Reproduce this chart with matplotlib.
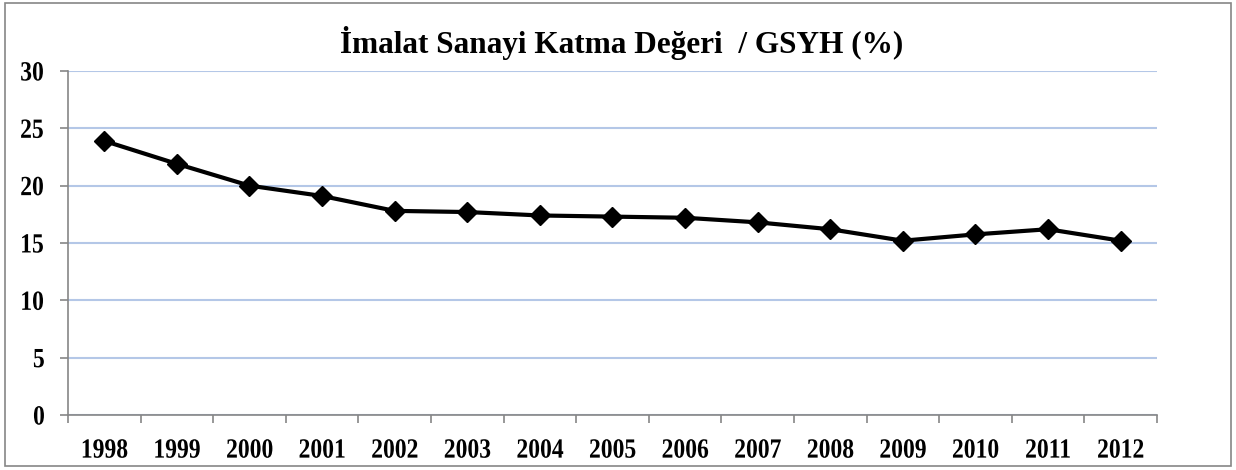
import matplotlib
matplotlib.use("Agg")
import matplotlib.pyplot as plt
from matplotlib.patches import Rectangle
from matplotlib.patheffects import AbstractPathEffect
from matplotlib.transforms import Affine2D
import numpy as np

# veriler
years = ['1998', '1999', '2000', '2001', '2002', '2003', '2004', '2005',
         '2006', '2007', '2008', '2009', '2010', '2011', '2012']
values = [23.9, 21.9, 20.0, 19.1, 17.8, 17.7, 17.4, 17.3,
          17.2, 16.8, 16.2, 15.2, 15.75, 16.2, 15.2]
yticks = [0, 5, 10, 15, 20, 25, 30]
title = 'İmalat Sanayi Katma Değeri  / GSYH (%)'


# eksen yazilari referansta yatayda biraz sikismis, yaziyi ortasindan daralt
class Squeeze(AbstractPathEffect):
    def __init__(self, sx):
        super().__init__()
        self.sx = sx

    def draw_path(self, renderer, gc, tpath, affine, rgbFace=None):
        ext = tpath.get_extents(affine)
        cx = (ext.x0 + ext.x1) / 2
        a = affine + Affine2D().translate(-cx, 0).scale(self.sx, 1).translate(cx, 0)
        renderer.draw_path(gc, tpath, a, rgbFace)


plt.rcParams['font.family'] = ['Liberation Serif', 'DejaVu Serif']
plt.rcParams['font.weight'] = 'bold'

fig = plt.figure(figsize=(12.36, 4.70), dpi=100)
ax = fig.add_axes([0.055, 0.117, 0.881, 0.732])

x = np.arange(len(years))
ax.plot(x, values, color='black', lw=3, marker='D', ms=10.5, zorder=3)

ax.set_xlim(-0.5, len(years) - 0.5)
ax.set_ylim(0, 30)
ax.set_yticks(yticks)
ax.set_yticklabels([str(v) for v in yticks], fontsize=20, fontweight='bold')
ax.set_xticks(x)
ax.set_xticklabels(years, fontsize=20, fontweight='bold')
ax.set_xticks(np.arange(-0.5, len(years), 1), minor=True)
ax.tick_params(axis='x', which='major', length=0, pad=17)
ax.tick_params(axis='x', which='minor', length=6, color='#868686', width=1.2)
ax.tick_params(axis='y', length=6, color='#868686', width=1.2, pad=10)
for lab in ax.get_xticklabels() + ax.get_yticklabels():
    lab.set_path_effects([Squeeze(0.85)])

ax.grid(axis='y', color='#B4C7E7', lw=1.5)
ax.set_axisbelow(True)
for s in ['top', 'right']:
    ax.spines[s].set_visible(False)
for s in ['left', 'bottom']:
    ax.spines[s].set_color('#868686')
    ax.spines[s].set_linewidth(1.2)

fig.text(0.503, 1 - 53 / 470, title, ha='center', va='baseline', fontsize=22.5, fontweight='bold')

# dis cerceve
fig.patches.append(Rectangle((0.004, 0.008), 0.992, 0.985, transform=fig.transFigure,
                             fill=False, edgecolor='#868686', lw=1.2))

fig.savefig('out.png', dpi=100)
